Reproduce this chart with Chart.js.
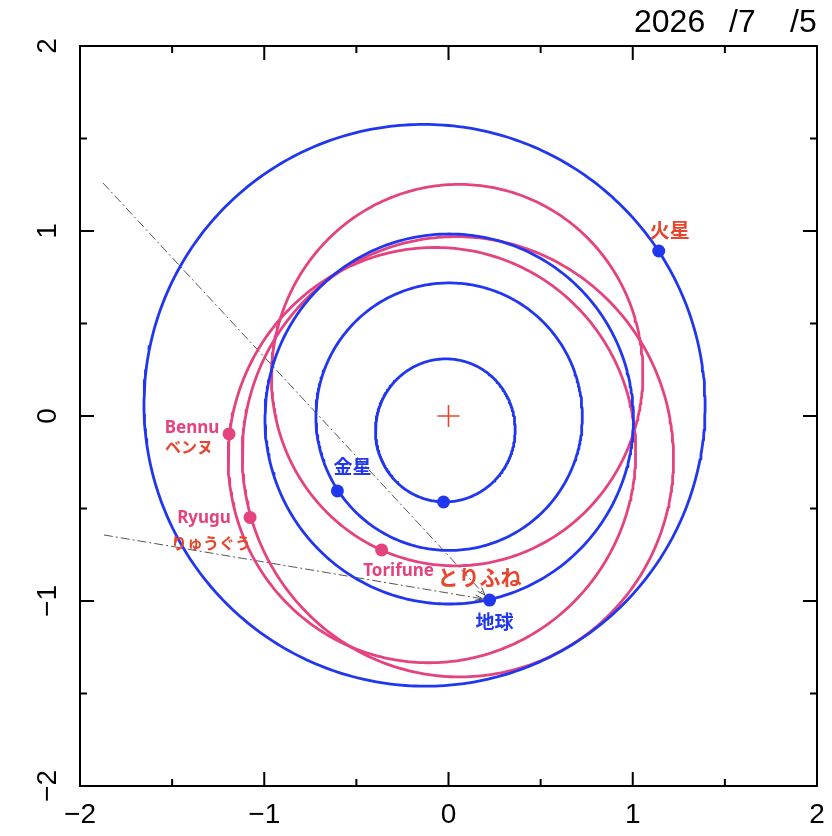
<!DOCTYPE html>
<html><head><meta charset="utf-8">
<script src="https://cdn.jsdelivr.net/npm/chart.js@4/dist/chart.umd.min.js"></script>
<style>html,body{margin:0;padding:0;background:#fff;}#wrap{width:832px;height:836px;position:relative;}</style>
</head><body><div id="wrap"><canvas id="c"></canvas></div>
<script>
// ---- data ----
const dateParts = ['2026', '/7', '/5'];
const bodyNames = ['水星', '金星', '地球', '火星', 'Bennu', 'Ryugu', 'Torifune'];
const bodyKind = ['planet', 'planet', 'planet', 'planet', 'asteroid', 'asteroid', 'asteroid'];
const semiMajor = [0.387, 0.723, 1.000, 1.524, 1.126, 1.191, 1.032];
const eccentricity = [0.206, 0.007, 0.0167, 0.0934, 0.204, 0.190, 0.219];
const perihelionLon = [77.5, 131, 103, 336, 67, 103, 258];
const bodyX = [-0.027, -0.603, 0.223, 1.141, -1.191, -1.077, -0.363];
const bodyY = [-0.465, -0.405, -0.995, 0.892, -0.097, -0.548, -0.724];
const sightStartX = [-1.875, -1.870];
const sightStartY = [1.259, -0.643];
const sightTarget = 2; // 地球
const majorTicks = [-2, -1, 0, 1, 2];
const minorTicks = [-1.5, -0.5, 0.5, 1.5];
const jpLabels = ['', '金星', '地球', '火星', 'ベンヌ', 'りゅうぐう', 'とりふね'];
const enLabels = ['', '', '', '', 'Bennu', 'Ryugu', 'Torifune'];

// ---- styles ----
const BLUE = '#2137ef', PINK = '#e4437f', RED = '#e8452c';
const labelStyle = {
  '金星': {dx: 15, dy: -24, color: BLUE, font: 'bold 19px "Noto Sans CJK JP"'},
  '地球': {dx: 5, dy: 22, color: BLUE, font: 'bold 19px "Noto Sans CJK JP"'},
  '火星': {dx: 11, dy: -21, color: RED, font: 'bold 20px "Noto Sans CJK JP"'},
  'ベンヌ': {dx: -40, dy: 13, color: RED, font: 'bold 16px "Noto Sans CJK JP"'},
  'りゅうぐう': {dx: -39, dy: 26, color: RED, font: 'bold 16px "Noto Sans CJK JP"'},
  'とりふね': {dx: 98, dy: 27, color: RED, font: 'bold 21px "Noto Sans CJK JP"'},
  'Bennu': {dx: -37, dy: -6, color: PINK, font: 'bold 17px "Noto Sans"'},
  'Ryugu': {dx: -46, dy: 1, color: PINK, font: 'bold 17px "Noto Sans"'},
  'Torifune': {dx: 17, dy: 21, color: PINK, font: 'bold 17px "Noto Sans"'}
};

function orbit(i) {
  const a = semiMajor[i], e = eccentricity[i], w = perihelionLon[i] * Math.PI / 180;
  const b = a * Math.sqrt(1 - e * e);
  const ux = Math.cos(w), uy = Math.sin(w);
  const cx = -a * e * ux, cy = -a * e * uy;
  const pts = [];
  for (let k = 0; k <= 360; k++) {
    const E = k * Math.PI / 180;
    pts.push({x: cx + a * Math.cos(E) * ux - b * Math.sin(E) * uy,
              y: cy + a * Math.cos(E) * uy + b * Math.sin(E) * ux});
  }
  return pts;
}

const datasets = [];
bodyNames.forEach((n, i) => {
  datasets.push({data: orbit(i), showLine: true, pointRadius: 0, borderWidth: 2.8,
    borderColor: bodyKind[i] === 'planet' ? BLUE : PINK, tension: 0, fill: false,
    borderJoinStyle: 'round', borderCapStyle: 'round'});
});
sightStartX.forEach((sx, j) => {
  datasets.push({data: [{x: sx, y: sightStartY[j]}, {x: bodyX[sightTarget], y: bodyY[sightTarget]}],
    showLine: true, pointRadius: 0, borderWidth: 1, borderColor: '#555', borderDash: [9, 3, 2, 3]});
});
datasets.push({data: [{x: 0, y: 0}], pointStyle: 'cross', pointRadius: 11, borderWidth: 1.6,
  borderColor: '#e8452c', backgroundColor: '#e8452c'});
bodyNames.forEach((n, i) => {
  const c = bodyKind[i] === 'planet' ? BLUE : PINK;
  datasets.push({data: [{x: bodyX[i], y: bodyY[i]}], pointRadius: 6.5, pointBorderWidth: 0,
    backgroundColor: c, borderColor: c});
});

const decor = {
  id: 'decor',
  afterDraw(chart) {
    const ctx = chart.ctx, xs = chart.scales.x, ys = chart.scales.y, A = chart.chartArea;
    ctx.save();
    // arrowheads of sight lines
    const ex = xs.getPixelForValue(bodyX[sightTarget]), ey = ys.getPixelForValue(bodyY[sightTarget]);
    ctx.strokeStyle = '#444'; ctx.lineWidth = 1;
    sightStartX.forEach((sx, j) => {
      const px = xs.getPixelForValue(sx), py = ys.getPixelForValue(sightStartY[j]);
      const ang = Math.atan2(ey - py, ex - px);
      const tx = ex - 7 * Math.cos(ang), ty = ey - 7 * Math.sin(ang);
      ctx.beginPath();
      ctx.moveTo(tx - 8 * Math.cos(ang - 0.35), ty - 8 * Math.sin(ang - 0.35));
      ctx.lineTo(tx, ty);
      ctx.lineTo(tx - 8 * Math.cos(ang + 0.35), ty - 8 * Math.sin(ang + 0.35));
      ctx.stroke();
    });
    // text labels
    ctx.textAlign = 'center'; ctx.textBaseline = 'middle';
    bodyNames.forEach((n, i) => {
      const px = xs.getPixelForValue(bodyX[i]), py = ys.getPixelForValue(bodyY[i]);
      [jpLabels[i], enLabels[i]].forEach(t => {
        if (!t) return;
        const s = labelStyle[t];
        ctx.font = s.font; ctx.fillStyle = s.color;
        ctx.fillText(t, px + s.dx, py + s.dy);
      });
    });
    // frame
    ctx.strokeStyle = '#000'; ctx.lineWidth = 2;
    ctx.strokeRect(A.left, A.top, A.right - A.left, A.bottom - A.top);
    // inward ticks on all sides
    const tick = (v, len) => {
      const px = xs.getPixelForValue(v), py = ys.getPixelForValue(v);
      ctx.beginPath();
      ctx.moveTo(px, A.bottom); ctx.lineTo(px, A.bottom - len);
      ctx.moveTo(px, A.top); ctx.lineTo(px, A.top + len);
      ctx.moveTo(A.left, py); ctx.lineTo(A.left + len, py);
      ctx.moveTo(A.right, py); ctx.lineTo(A.right - len, py);
      ctx.stroke();
    };
    majorTicks.forEach(v => tick(v, 14));
    minorTicks.forEach(v => tick(v, 7));
    // tick labels
    const fmt = v => (v < 0 ? '\u2212' : '') + Math.abs(v);
    ctx.fillStyle = '#000'; ctx.font = '28px "Liberation Sans"';
    ctx.textAlign = 'center'; ctx.textBaseline = 'middle';
    majorTicks.forEach(v => ctx.fillText(fmt(v), xs.getPixelForValue(v), A.bottom + 29));
    majorTicks.forEach(v => {
      ctx.save();
      ctx.translate(A.left - 32, ys.getPixelForValue(v));
      ctx.rotate(-Math.PI / 2);
      ctx.fillText(fmt(v), 0, 0);
      ctx.restore();
    });
    // date
    ctx.font = '32px "Liberation Sans"'; ctx.textAlign = 'left'; ctx.textBaseline = 'alphabetic';
    const dx = [634, 729, 790];
    dateParts.forEach((t, k) => ctx.fillText(t, dx[k], 32));
    ctx.restore();
  }
};

new Chart(document.getElementById('c'), {
  type: 'scatter',
  data: {datasets},
  options: {
    responsive: true, maintainAspectRatio: false, animation: false,
    layout: {padding: {left: 80, right: 15, top: 46, bottom: 50}},
    plugins: {legend: {display: false}, tooltip: {enabled: false}},
    scales: {
      x: {type: 'linear', min: -2, max: 2, display: false},
      y: {type: 'linear', min: -2, max: 2, display: false}
    }
  },
  plugins: [decor]
});
</script></body></html>
